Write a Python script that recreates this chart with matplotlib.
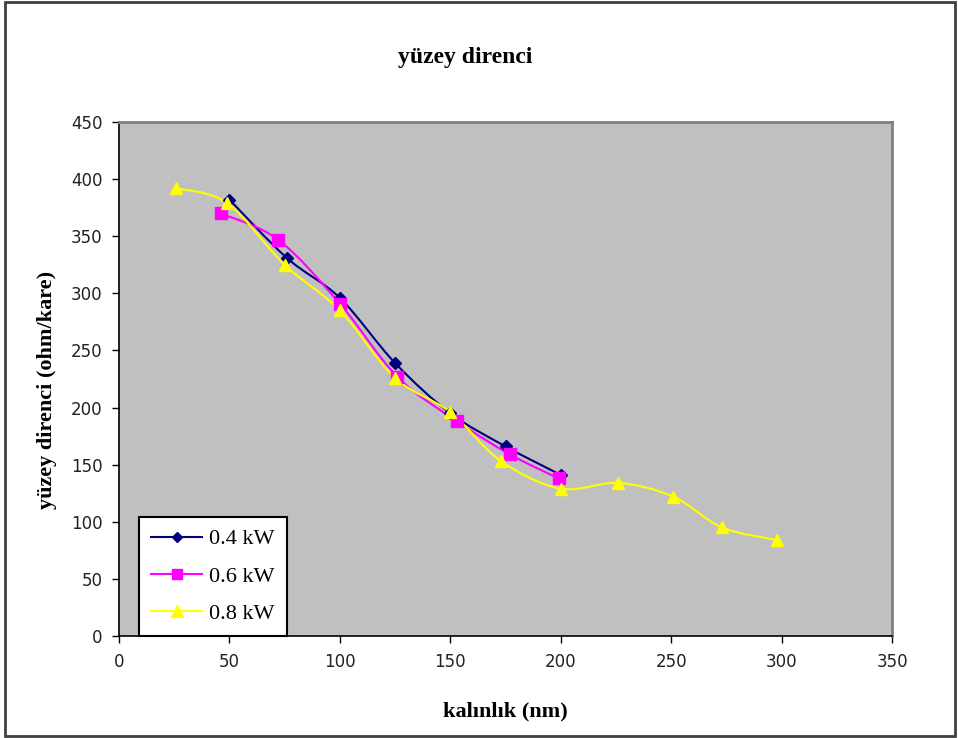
import numpy as np
import matplotlib
matplotlib.use("Agg")
import matplotlib.pyplot as plt
from matplotlib.path import Path
from matplotlib.patches import PathPatch, Rectangle
from matplotlib.lines import Line2D

# ---- data ----
x_04 = [50, 76, 100, 125, 150, 175, 200]
y_04 = [382, 331, 296, 239, 195, 166, 141]

x_06 = [46, 72, 100, 126, 153, 177, 199]
y_06 = [370, 347, 291, 227, 188, 159, 138]

x_08 = [26, 49, 75, 100, 125, 150, 173, 200, 226, 251, 273, 298]
y_08 = [392, 379, 325, 285, 226, 196, 153, 129, 134, 122, 95, 84]

series_labels = ["0.4 kW", "0.6 kW", "0.8 kW"]
x_ticks = [0, 50, 100, 150, 200, 250, 300, 350]
y_ticks = [0, 50, 100, 150, 200, 250, 300, 350, 400, 450]

title = "yüzey direnci"
xlabel = "kalınlık (nm)"
ylabel = "yüzey direnci (ohm/kare)"

SERIF = ["Liberation Serif", "DejaVu Serif"]
SANS = ["DejaVu Sans"]


def smooth_path(xs, ys):
    """Excel-like smoothed line: Bezier segments with Catmull-Rom control points."""
    P = np.column_stack([xs, ys]).astype(float)
    n = len(P)
    verts = [P[0]]
    codes = [Path.MOVETO]
    for i in range(n - 1):
        p0 = P[i - 1] if i > 0 else P[i]
        p1 = P[i]
        p2 = P[i + 1]
        p3 = P[i + 2] if i + 2 < n else P[i + 1]
        c1 = p1 + (p2 - p0) / 6.0
        c2 = p2 - (p3 - p1) / 6.0
        verts += [c1, c2, p2]
        codes += [Path.CURVE4] * 3
    return Path(verts, codes)


fig = plt.figure(figsize=(9.58, 7.38), dpi=100)
fig.patch.set_facecolor("white")

ax = fig.add_axes([119 / 958, (738 - 636) / 738, (892 - 119) / 958, (636 - 122) / 738])
ax.set_facecolor("#C0C0C0")
ax.set_xlim(0, 350)
ax.set_ylim(0, 450)
ax.set_xticks(x_ticks)
ax.set_yticks(y_ticks)
ax.tick_params(direction="out", length=5, width=1, color="black",
               labelsize=12, labelcolor="#222222", pad=7)
for lab in ax.get_xticklabels() + ax.get_yticklabels():
    lab.set_family(SANS)

for s in ["left", "bottom"]:
    ax.spines[s].set_color("black")
    ax.spines[s].set_linewidth(1.2)
for s in ["top", "right"]:
    ax.spines[s].set_color("#808080")
    ax.spines[s].set_linewidth(2)

styles = [
    dict(color="#000080", marker="D", ms=6),
    dict(color="#FF00FF", marker="s", ms=8),
    dict(color="#FFFF00", marker="^", ms=9),
]
data = [(x_04, y_04), (x_06, y_06), (x_08, y_08)]

handles = []
for (xs, ys), st, lab in zip(data, styles, series_labels):
    patch = PathPatch(smooth_path(xs, ys), facecolor="none",
                      edgecolor=st["color"], lw=1.5, zorder=3)
    ax.add_patch(patch)
    ax.plot(xs, ys, linestyle="none", marker=st["marker"], ms=st["ms"],
            color=st["color"], mec=st["color"], zorder=4)
    handles.append(Line2D([], [], color=st["color"], lw=1.5,
                          marker=st["marker"], ms=st["ms"] - 1, mec=st["color"]))

leg = ax.legend(handles, series_labels, loc="lower left",
                bbox_to_anchor=(0.026, 0.0), frameon=True, fancybox=False,
                prop=dict(family=SERIF, size=16), handlelength=2.3,
                borderpad=0.55, labelspacing=0.75, handletextpad=0.3,
                borderaxespad=0.0)
leg.get_frame().set_edgecolor("black")
leg.get_frame().set_linewidth(1.5)
leg.get_frame().set_facecolor("white")
leg.get_frame().set_alpha(1)

fig.text(465 / 958, 1 - 58 / 738, title, ha="center", va="center",
         family=SERIF, fontsize=17, fontweight="bold")
fig.text(505 / 958, 1 - 711 / 738, xlabel, ha="center", va="center",
         family=SERIF, fontsize=16, fontweight="bold")
fig.text(47 / 958, 1 - 390 / 738, ylabel, ha="center", va="center",
         rotation=90, family=SERIF, fontsize=16, fontweight="bold")

fig.patches.append(Rectangle((5 / 958, 2 / 738), 950 / 958, 734 / 738,
                             transform=fig.transFigure, fill=False,
                             edgecolor="#404040", lw=2))

fig.savefig("out.png", dpi=100)
